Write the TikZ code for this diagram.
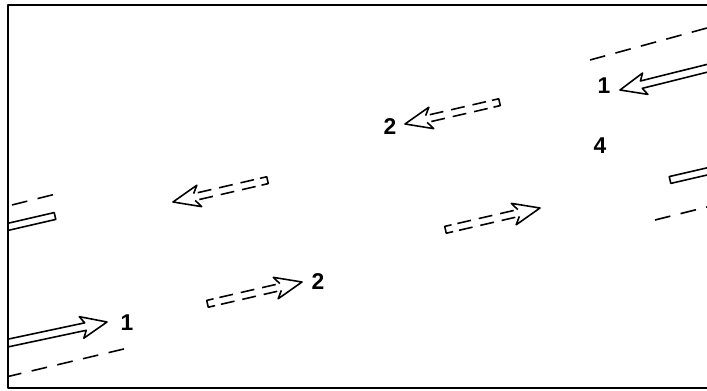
\documentclass[tikz,border=0pt]{standalone}
\usepackage{fontspec}
\setsansfont{Liberation Sans}
\usepackage{tikz}
\usetikzlibrary{positioning}

\begin{document}
\begin{tikzpicture}[x=0.02cm, y=-0.02cm, line width=0.9pt, line join=round,
    font=\sffamily\bfseries\fontsize{13}{15}\selectfont,
    edge/.style={dash pattern=on 9pt off 6pt},
    lanearrow/.pic={
      \draw (-140,3.8) -- (-22,3.8) -- (-26,11) -- (0,0) -- (-26,-11) -- (-22,-3.8) -- (-140,-3.8);
    },
    flowarrow/.pic={
      \draw (-22,3.5) -- (-27,11) -- (0,0) -- (-27,-11) -- (-22,-3.5);
      \draw[dash pattern=on 7.94pt off 4.54pt] (-84,3.5) -- (-26,3.5) (-84,-3.5) -- (-26,-3.5);
      \draw (-90,3.5) -- (-97,3.5) -- (-97,-3.5) -- (-90,-3.5);
    },
    lanebar/.pic={
      \draw (80,3.5) -- (0,3.5) -- (0,-3.5) -- (80,-3.5);
    }]
    \useasboundingbox (0,0) rectangle (707,391);
    % Rahmen
    \draw[line width=1.2pt] (707,5) -- (8,5) -- (8,388) -- (707,388);
    \begin{scope}
    \clip (8,5) rectangle (707,388);
    % Fahrbahnraender
    \draw[edge] (6,377) -- (128,348);
    \draw[edge] (590,60) -- (707,28);
    \draw[edge] (12,205) -- (60,193);
    \draw[edge] (655,220) -- (707,207);
    % Fahrstreifen
    \pic[rotate=12] at (107,322) {lanearrow};
    \pic[rotate=194] at (620,90) {lanearrow};
    \pic[rotate=193] at (55,216) {lanebar};
    \pic[rotate=13] at (670,180) {lanebar};
    % Verkehrsstroeme
    \pic[rotate=193] at (405,124) {flowarrow};
    \pic[rotate=193] at (173,202) {flowarrow};
    \pic[rotate=13] at (540,208) {flowarrow};
    \pic[rotate=13] at (302,282) {flowarrow};
    \end{scope}
    % Beschriftung
    \node (l1a) at (127,323) {1};
    \node (l1b) at (604,86) {1};
    \node (l2a) at (390,127) {2};
    \node (l2b) at (318,282) {2};
    \node (l4) at (600,146) {4};
\end{tikzpicture}
\end{document}
